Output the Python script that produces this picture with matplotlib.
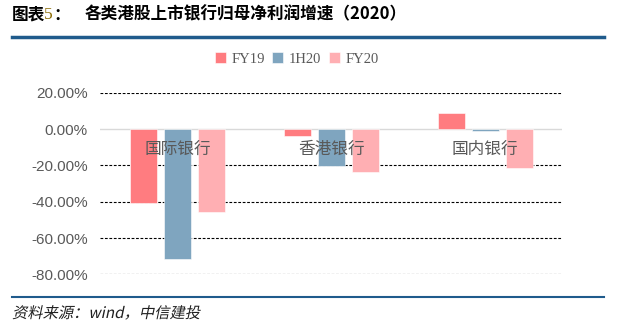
import numpy as np
import matplotlib.pyplot as plt
from matplotlib.lines import Line2D
from matplotlib.textpath import TextPath
from matplotlib.patches import PathPatch
from matplotlib.font_manager import FontProperties
from matplotlib.transforms import Affine2D

plt.rcParams['font.family'] = ['Noto Sans CJK SC', 'DejaVu Sans']

# 数据
categories = ["国际银行", "香港银行", "国内银行"]
series = ["FY19", "1H20", "FY20"]
fy19 = [-40.8, -4.1, 9.1]
h120 = [-71.5, -20.6, -1.3]
fy20 = [-45.9, -23.9, -21.2]
yticks = [20, 0, -20, -40, -60, -80]

colors = ["#FF7C80", "#7FA5BF", "#FFAFB3"]

fig = plt.figure(figsize=(6.31, 3.27), dpi=100)
ax = fig.add_axes([0.159, 0.161, 0.732, 0.5555])

x = np.arange(len(categories))
w = 0.173
off = 0.221
for k, vals in enumerate([fy19, h120, fy20]):
    ax.bar(x + (k - 1) * off, vals, width=w, color=colors[k], label=series[k],
           edgecolor="white", linewidth=0.4, zorder=2)

# grille
for t in yticks:
    if t == 0:
        ax.axhline(t, color="#D9D9D9", lw=1.0, zorder=1)
    else:
        ax.axhline(t, color="black", lw=0.8, ls=(0, (2.5, 1.5)), zorder=1)

ax.set_xlim(-0.5, 2.5)
ax.set_ylim(-80, 20)
ax.set_yticks(yticks)
ax.set_yticklabels(["%.2f%%" % t for t in yticks], family="Liberation Sans",
                   fontsize=11, color="#595959")
ax.tick_params(axis="y", length=0, pad=9)
ax.set_xticks([])
for s in ax.spines.values():
    s.set_visible(False)

# étiquettes des catégories
for i, c in enumerate(categories):
    ax.text(i, -11.4, c, ha="center", va="center", fontsize=12,
            color="#595959", zorder=3)

# légende
leg = ax.legend(loc="center", bbox_to_anchor=(0.425, 1.186), ncol=3, frameon=False,
                handlelength=0.75, handleheight=0.75, handletextpad=0.4,
                columnspacing=0.5, prop={"family": "Liberation Serif", "size": 10.5})
for t in leg.get_texts():
    t.set_color("#595959")

# titre
fig.text(0.019, 0.955, "图表", fontsize=12, fontweight="heavy", va="center")
fig.text(0.070, 0.955, "5", fontsize=12.5, family="Liberation Serif",
         color="#8A6A00", va="center")
fig.text(0.085, 0.955, "：", fontsize=12, fontweight="heavy", va="center")
fig.text(0.134, 0.955, "各类港股上市银行归母净利润增速（2020）", fontsize=12,
         fontweight="heavy", va="center")

fig.add_artist(Line2D([0.019, 0.957], [0.887, 0.887], color="#1F5B8C", lw=2.5,
                      transform=fig.transFigure))
fig.add_artist(Line2D([0.019, 0.957], [0.092, 0.092], color="#1F5B8C", lw=1.5,
                      transform=fig.transFigure))

# source en italique (inclinaison)
fp = FontProperties(family="Noto Sans CJK SC", size=11)
tp = TextPath((0, 0), "资料来源：wind，中信建投", prop=fp)
tr = Affine2D().skew_deg(12, 0).scale(fig.dpi / 72).translate(12, 327 - 318)
fig.add_artist(PathPatch(tp, transform=tr, color="#202020", lw=0))

fig.savefig("out.png", dpi=100)
